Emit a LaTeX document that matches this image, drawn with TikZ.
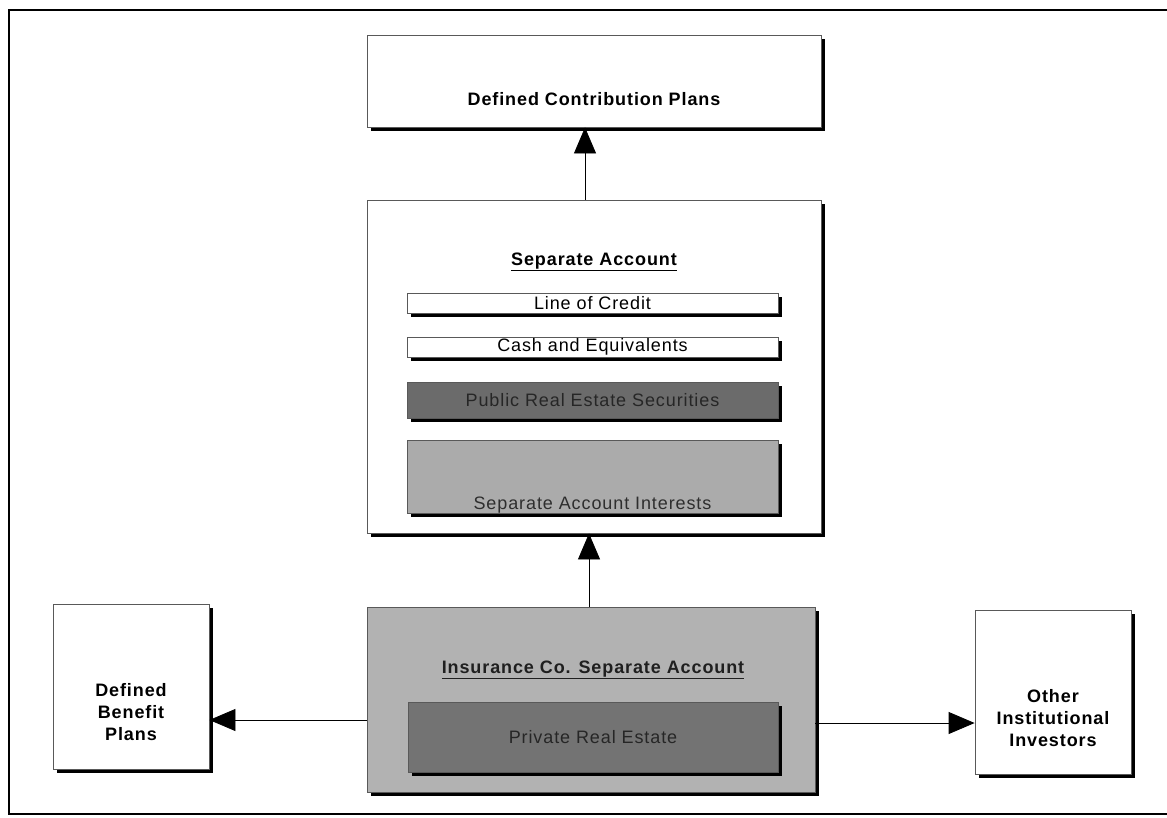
\documentclass[tikz,border=0pt]{standalone}
\usepackage{fontspec}
\newfontfamily\plansans[LetterSpace=5]{Liberation Sans}
\usetikzlibrary{arrows.meta,shadows,positioning}

\begin{document}
\begin{tikzpicture}[x=1pt, y=-1pt,
  box/.style={draw=black!65, line width=0.8pt, fill=white, inner sep=0pt,
    drop shadow={shadow xshift=4pt, shadow yshift=-4pt, fill=black, opacity=1}},
  lbl/.style={font=\plansans\fontsize{18}{22}\selectfont, inner sep=0pt, align=center},
  ttl/.style={lbl, font=\plansans\bfseries\fontsize{18}{22}\selectfont},
  bar/.style={box, lbl, minimum width=371, minimum height=20},
  arr/.style={line width=0.8pt, -{Triangle[length=26pt,width=22pt]}}]
  \useasboundingbox (0,0) rectangle (1167,817);
  % frame
  \draw[line width=2pt] (9,10) rectangle (1190,814);

  % top box
  \node[box, minimum width=454, minimum height=92] (dcp) at (594,81) {};
  \node[ttl] (dcp-t) at (594,99) {Defined Contribution Plans};

  % separate account with its holdings
  \node[box, minimum width=454, minimum height=333] (sa) at (594,366.5) {};
  \node[ttl] (sa-t) at (594,262) {\underline{Separate Account}};
  \node[bar] (loc) at (592.5,303) {Line of Credit};
  \node[bar] (cash) at (592.5,347) {Cash and Equivalents};
  \node[bar, fill=black!58, text=black!85, minimum height=36] (pres) at (592.5,400) {Public Real Estate Securities};
  \node[bar, fill=black!33, minimum height=73] (sai) at (592.5,476.5) {};
  \node[lbl, text=black!82] (sai-t) at (592.5,505) {Separate Account Interests};

  % insurance co. account
  \node[box, fill=black!30, minimum width=448, minimum height=185] (ins) at (591,699.5) {};
  \node[ttl, text=black!88] (ins-t) at (593,670) {\underline{Insurance Co. Separate Account}};
  \node[box, lbl, fill=black!55, text=black!85, minimum width=370, minimum height=70] (pre) at (593,737) {Private Real Estate};

  % side boxes
  \node[box, minimum width=156, minimum height=165] (dbp) at (131,686.5) {};
  \node[ttl] (dbp-t) at (131,712) {Defined\\Benefit\\Plans};
  \node[box, minimum width=156, minimum height=164] (oii) at (1053,692) {};
  \node[ttl] (oii-t) at (1053,718) {Other\\Institutional\\Investors};

  % arrows
  \coordinate (sat) at ([xshift=-9pt]sa.north);
  \coordinate (inst) at ([xshift=-2pt]ins.north);
  \coordinate (insl) at ([yshift=-20.5pt]ins.west);
  \coordinate (insr) at ([yshift=-23.5pt]ins.east);
  \draw[arr] (sat) -- (sat |- dcp.south);
  \draw[arr] (inst) -- (inst |- sa.south);
  \draw[arr] (insl) -- (insl -| dbp.east);
  \draw[arr] (insr) -- (insr -| oii.west);
\end{tikzpicture}
\end{document}
